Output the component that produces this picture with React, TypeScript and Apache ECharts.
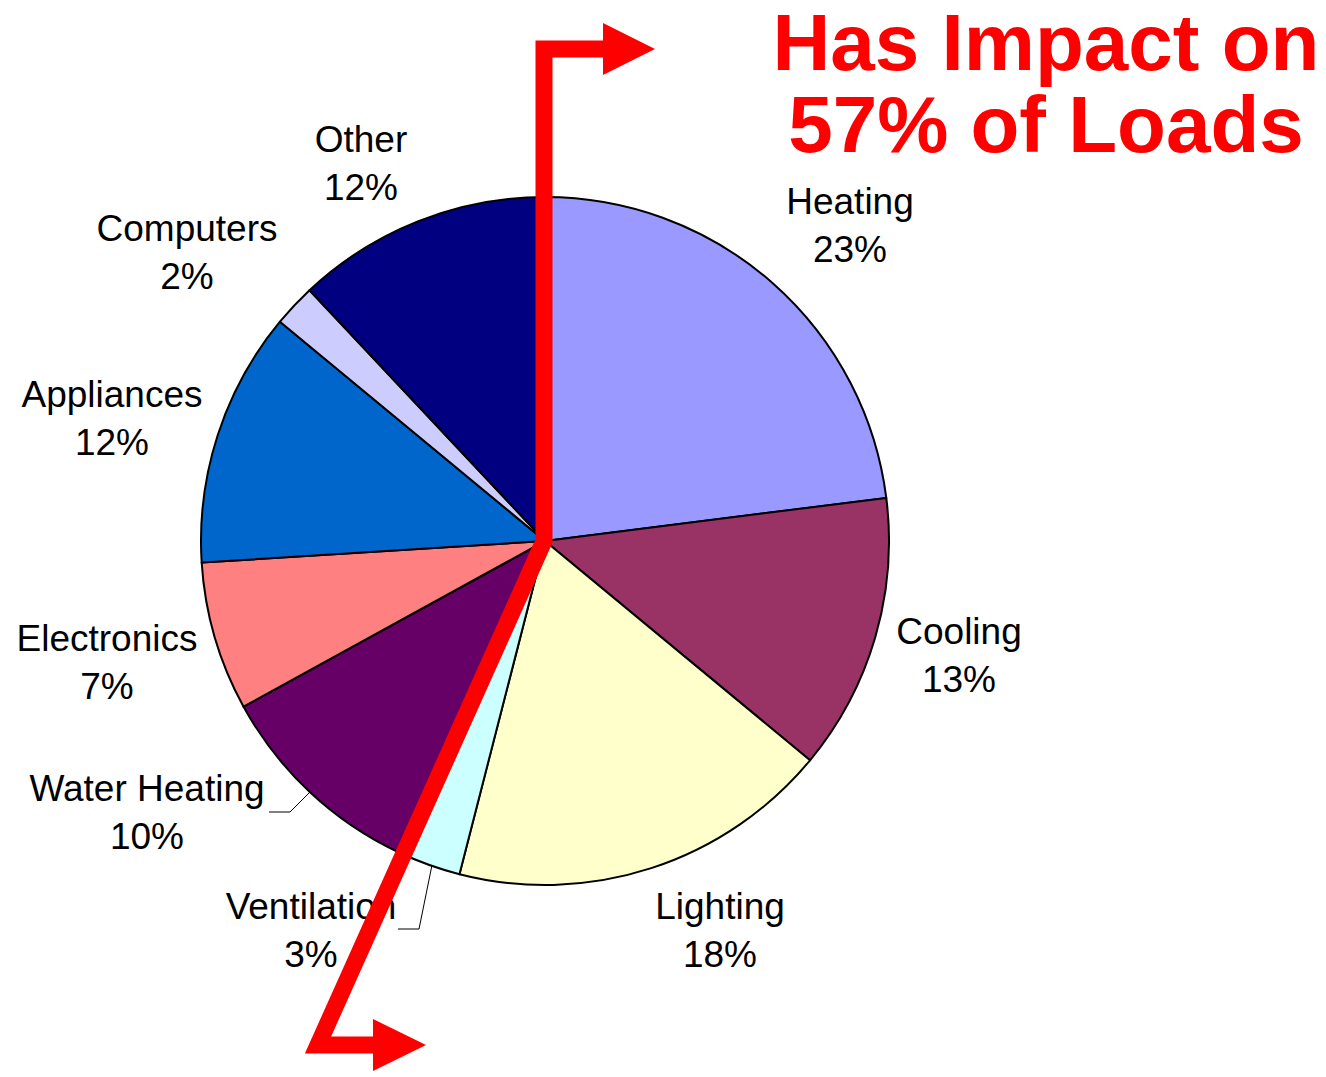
import React, { useEffect, useRef } from "react";
import * as echarts from "echarts";

// ---- data ----
const categories = [
  "Heating",
  "Cooling",
  "Lighting",
  "Ventilation",
  "Water Heating",
  "Electronics",
  "Appliances",
  "Computers",
  "Other",
];
const shares = [23, 13, 18, 3, 10, 7, 12, 2, 12];
const sliceColors = [
  "#9999FF",
  "#993366",
  "#FFFFCC",
  "#CCFFFF",
  "#660066",
  "#FF8080",
  "#0066CC",
  "#CCCCFF",
  "#000080",
];
const titleLines = ["Has Impact on", "57% of Loads"];

// ---- layout (label block centres, leader lines, annotation arrow) ----
const labelAnchors: [number, number][] = [
  [850, 225],
  [959, 655],
  [720, 930],
  [311, 930],
  [147, 812],
  [107, 662],
  [112, 418],
  [187, 252],
  [361, 163],
];
const leaderLines: [number, number][][] = [
  [
    [310, 792],
    [290, 812],
    [269, 812],
  ],
  [
    [432, 865],
    [419, 929],
    [398, 929],
  ],
];

const FONT = "'Liberation Sans', Arial, Helvetica, sans-serif";

export default function App() {
  const ref = useRef<HTMLDivElement>(null);

  useEffect(() => {
    document.body.style.margin = "0";
    if (!ref.current) return;
    const chart = echarts.init(ref.current, undefined, { renderer: "svg" });

    const red = "#FF0000";
    const graphics: any[] = [];
    leaderLines.forEach((pts) => {
      graphics.push({
        type: "polyline",
        z: 50,
        shape: { points: pts },
        style: { stroke: "#000", lineWidth: 1, fill: null },
        silent: true,
      });
    });
    graphics.push({
      type: "polyline",
      z: 100,
      shape: {
        points: [
          [604, 49],
          [544, 49],
          [544, 541],
          [318, 1045],
          [374, 1045],
        ],
      },
      style: { stroke: red, lineWidth: 17, fill: null, lineJoin: "miter", lineCap: "butt", miterLimit: 10 },
      silent: true,
    });
    graphics.push({
      type: "polygon",
      z: 100,
      shape: { points: [[603, 23], [655, 49], [603, 75]] },
      style: { fill: red },
      silent: true,
    });
    graphics.push({
      type: "polygon",
      z: 100,
      shape: { points: [[373, 1019], [426, 1045], [373, 1071]] },
      style: { fill: red },
      silent: true,
    });
    titleLines.forEach((t, i) => {
      graphics.push({
        type: "text",
        z: 100,
        style: {
          text: t,
          x: 1046,
          y: i === 0 ? 42 : 124,
          fill: red,
          fontSize: 80,
          lineHeight: 80,
          fontWeight: "bold",
          fontFamily: FONT,
          align: "center",
          verticalAlign: "middle",
        },
        silent: true,
      });
    });

    chart.setOption({
      animation: false,
      backgroundColor: "#ffffff",
      series: [
        {
          type: "pie",
          center: [545, 541],
          radius: 344,
          startAngle: 90,
          clockwise: true,
          silent: true,
          emphasis: { disabled: true },
          itemStyle: { borderColor: "#000", borderWidth: 2 },
          label: {
            show: true,
            position: "outside",
            formatter: "{b}\n{c}%",
            color: "#000",
            fontSize: 37,
            lineHeight: 48,
            fontFamily: FONT,
            overflow: "none",
            width: 300,
          },
          labelLine: { show: false },
          labelLayout: (params: any) => {
            const p = labelAnchors[params.dataIndex];
            return {
              x: p[0],
              y: p[1],
              align: "center",
              verticalAlign: "middle",
              hideOverlap: false,
            };
          },
          data: categories.map((name, i) => ({
            name,
            value: shares[i],
            itemStyle: { color: sliceColors[i] },
          })),
        },
      ],
      graphic: graphics,
    });

    return () => chart.dispose();
  }, []);

  return <div ref={ref} style={{ width: 1326, height: 1077 }} />;
}
